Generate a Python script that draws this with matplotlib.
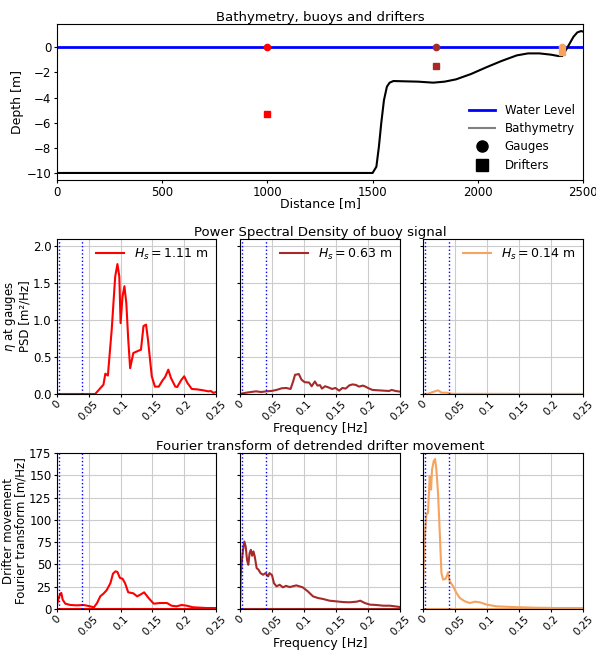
import matplotlib
matplotlib.use("Agg")
import matplotlib.pyplot as plt
from matplotlib.lines import Line2D
import numpy as np

plt.rcParams['font.family'] = ['DejaVu Sans']
plt.rcParams['font.size'] = 9

# ---------------- data ----------------
bathy_x = [0, 1500, 1518, 1530, 1541, 1554, 1568, 1581, 1599, 1644, 1716, 1788, 1842,
           1896, 1968, 2040, 2112, 2185, 2239, 2293, 2347, 2383, 2401, 2419, 2437,
           2455, 2473, 2491, 2500]
bathy_z = [-10, -10, -9.5, -7.9, -6.05, -4.2, -3.13, -2.81, -2.68, -2.70, -2.73, -2.81,
           -2.73, -2.55, -2.12, -1.59, -1.09, -0.64, -0.48, -0.48, -0.58, -0.69, -0.69,
           -0.21, 0.32, 0.85, 1.19, 1.30, 1.25]
water_x = [0, 2500]
water_z = [0, 0]

station_x = [1000, 1800, 2400]
gauge_z = [0, 0, 0]
drifter_z = [-5.3, -1.5, -0.4]
colors = ['red', 'brown', 'sandybrown']
hs_values = [1.11, 0.63, 0.14]

psd1_f = [0, 0.060, 0.073, 0.076, 0.080, 0.086, 0.0915, 0.095, 0.098, 0.100, 0.103, 0.106,
          0.109, 0.112, 0.115, 0.120, 0.129, 0.132, 0.136, 0.140, 0.143, 0.149, 0.154,
          0.160, 0.166, 0.170, 0.175, 0.179, 0.186, 0.189, 0.195, 0.200, 0.205, 0.212,
          0.220, 0.230, 0.238, 0.242, 0.246, 0.250]
psd1_v = [0, 0, 0.126, 0.275, 0.25, 0.87, 1.59, 1.76, 1.59, 0.96, 1.32, 1.46,
          1.23, 0.74, 0.35, 0.555, 0.59, 0.60, 0.92, 0.94, 0.74, 0.24, 0.10,
          0.10, 0.185, 0.23, 0.33, 0.22, 0.10, 0.095, 0.185, 0.24, 0.15, 0.068,
          0.063, 0.05, 0.036, 0.04, 0.015, 0.027]

psd2_f = [0, 0.007, 0.017, 0.025, 0.033, 0.041, 0.049, 0.057, 0.065, 0.072, 0.079, 0.083,
          0.086, 0.092, 0.096, 0.101, 0.108, 0.112, 0.117, 0.121, 0.125, 0.128, 0.133,
          0.138, 0.144, 0.149, 0.155, 0.160, 0.165, 0.171, 0.176, 0.181, 0.186, 0.192,
          0.196, 0.201, 0.207, 0.216, 0.225, 0.233, 0.237, 0.243, 0.250]
psd2_v = [0, 0.014, 0.027, 0.036, 0.027, 0.036, 0.041, 0.055, 0.077, 0.082, 0.068, 0.17,
          0.26, 0.27, 0.195, 0.16, 0.155, 0.105, 0.17, 0.114, 0.12, 0.073, 0.105,
          0.09, 0.068, 0.082, 0.045, 0.082, 0.073, 0.118, 0.13, 0.123, 0.10, 0.114,
          0.10, 0.077, 0.055, 0.05, 0.045, 0.041, 0.055, 0.041, 0.032]

psd3_f = [0, 0.008, 0.0157, 0.0235, 0.029, 0.037, 0.042, 0.047, 0.10, 0.15, 0.20, 0.25]
psd3_v = [0, 0.004, 0.028, 0.05, 0.018, 0.018, 0.009, 0.002, 0.002, 0.001, 0.001, 0.001]

ft1_f = [0, 0.0026, 0.0052, 0.0068, 0.0089, 0.013, 0.021, 0.031, 0.042, 0.052, 0.058,
         0.063, 0.068, 0.073, 0.078, 0.084, 0.088, 0.092, 0.095, 0.099, 0.103, 0.107,
         0.112, 0.120, 0.126, 0.131, 0.137, 0.144, 0.152, 0.162, 0.173, 0.180, 0.188,
         0.196, 0.204, 0.214, 0.225, 0.235, 0.250]
ft1_v = [4.9, 12.3, 17.2, 18, 10.5, 6, 4.5, 4.1, 4.5, 3, 1.9,
         6.7, 14.2, 17.2, 21, 29, 39.6, 42.3, 41.5, 34.8, 34, 29,
         18.7, 17.6, 14.2, 16.1, 18.7, 12.3, 6, 6.7, 6.7, 3.7, 3,
         4.5, 3.7, 1.9, 1.5, 1.1, 1.1]

ft2_f = [0.0005, 0.001, 0.0026, 0.0047, 0.0068, 0.0089, 0.011, 0.013, 0.015, 0.017,
         0.019, 0.021, 0.023, 0.026, 0.029, 0.032, 0.036, 0.040, 0.044, 0.046, 0.050,
         0.053, 0.057, 0.062, 0.067, 0.072, 0.0776, 0.088, 0.098, 0.106, 0.114, 0.122,
         0.130, 0.140, 0.150, 0.161, 0.171, 0.182, 0.188, 0.195, 0.203, 0.213, 0.224,
         0.234, 0.242, 0.250]
ft2_v = [10.4, 36.6, 51.5, 66.4, 75.7, 70, 55, 49.6, 62.7, 66.4,
         59.7, 64.6, 59, 45.9, 44, 40.3, 38.4, 40.3, 36.6, 40.3, 38,
         29, 25.4, 27.2, 24.3, 26, 24.6, 26.5, 24.3, 19.8, 14.2, 12.3,
         11.2, 9.3, 8.6, 7.8, 7.5, 8.2, 9.3, 6.7, 4.9, 4.5, 3.7,
         3.7, 3, 2.2]

ft3_f = [0, 0.0005, 0.0026, 0.0052, 0.0078, 0.0105, 0.0126, 0.0141, 0.0167, 0.0188,
         0.0209, 0.0235, 0.0262, 0.0288, 0.0314, 0.0356, 0.0392, 0.0418, 0.0471, 0.0523,
         0.0575, 0.0654, 0.0732, 0.0811, 0.0889, 0.0994, 0.115, 0.141, 0.173, 0.209, 0.250]
ft3_v = [14.2, 36.6, 77.8, 105.8, 107.7, 148.8, 133.9, 156.3, 165.7, 168.3,
         156.3, 130, 85.3, 40.4, 32.9, 34, 41.1, 31, 25.4, 18,
         12.3, 8.6, 6.7, 8.2, 7.5, 4.9, 3, 2.2, 1.5, 1.1, 1.1]

band_f = [0.0033, 0.04]
freq_ticks = [0, 0.05, 0.1, 0.15, 0.2, 0.25]
freq_labels = ['0', '0.05', '0.1', '0.15', '0.2', '0.25']

psd_f = [psd1_f, psd2_f, psd3_f]
psd_v = [psd1_v, psd2_v, psd3_v]
ft_f = [ft1_f, ft2_f, ft3_f]
ft_v = [ft1_v, ft2_v, ft3_v]

# ---------------- figure ----------------
W, H = 596, 652
fig = plt.figure(figsize=(W / 100, H / 100), dpi=100)

def box(x0, y0, x1, y1):
    return [x0 / W, 1 - y1 / H, (x1 - x0) / W, (y1 - y0) / H]

ax0 = fig.add_axes(box(57, 24, 583, 180))
ax0.plot(water_x, water_z, color='blue', lw=2)
ax0.plot(bathy_x, bathy_z, color='black', lw=1.5)
for x, g, d, c in zip(station_x, gauge_z, drifter_z, colors):
    ax0.plot(x, g, 'o', color=c, ms=4.5)
    ax0.plot(x, d, 's', color=c, ms=4.5)
ax0.set_xlim(0, 2500)
ax0.set_ylim(-10.56, 1.86)
ax0.set_yticks([0, -2, -4, -6, -8, -10])
ax0.tick_params(labelsize=8.5, length=2.5, pad=1.5)
ax0.set_xlabel('Distance [m]', labelpad=-1)
ax0.set_ylabel('Depth [m]', labelpad=2)
ax0.set_title('Bathymetry, buoys and drifters', fontsize=9.5, pad=2)
handles = [Line2D([], [], color='blue', lw=2),
           Line2D([], [], color='gray', lw=1.5),
           Line2D([], [], color='black', marker='o', ls='', ms=8),
           Line2D([], [], color='black', marker='s', ls='', ms=8)]
ax0.legend(handles, ['Water Level', 'Bathymetry', 'Gauges', 'Drifters'],
           loc='lower right', frameon=False, fontsize=8.5, handlelength=2.2,
           labelspacing=0.45, borderaxespad=0.3)

xs = [(57, 216), (240, 400), (423, 583)]

def style(ax, first, ylim, yticks):
    ax.set_xlim(0, 0.25)
    ax.set_ylim(*ylim)
    ax.set_xticks(freq_ticks)
    ax.set_xticklabels(freq_labels, rotation=45)
    ax.set_yticks(yticks)
    if not first:
        ax.set_yticklabels([])
    ax.grid(True, color='#cccccc', lw=0.8)
    ax.set_axisbelow(True)
    for f in band_f:
        ax.axvline(f, color='blue', ls=':', lw=1)
    ax.tick_params(axis='y', labelsize=8.5, pad=1.5, length=2.5)
    ax.tick_params(axis='x', labelsize=7.5, pad=1, length=2.5)

for i in range(3):
    ax = fig.add_axes(box(xs[i][0], 239, xs[i][1], 394))
    ax.plot(psd_f[i], psd_v[i], color=colors[i], lw=1.5,
            label=r'$H_s = %.2f$ m' % hs_values[i])
    style(ax, i == 0, (0, 2.1), [0, 0.5, 1.0, 1.5, 2.0])
    ax.legend(loc='upper right', frameon=False, fontsize=9, handlelength=2.2,
              borderaxespad=0.2)
    if i == 0:
        ax.set_ylabel('$\\eta$ at gauges\nPSD [m²/Hz]', fontsize=8.5, labelpad=1,
                      linespacing=1.0)
    if i == 1:
        ax.set_title('Power Spectral Density of buoy signal', fontsize=9.5, pad=1)
        ax.set_xlabel('Frequency [Hz]', labelpad=0)

    ax = fig.add_axes(box(xs[i][0], 453, xs[i][1], 609))
    ax.plot(ft_f[i], ft_v[i], color=colors[i], lw=1.5)
    ax.axhline(0, color=colors[i], lw=1.5)
    style(ax, i == 0, (0, 175), [0, 25, 50, 75, 100, 125, 150, 175])
    if i == 0:
        ax.set_ylabel('Drifter movement\nFourier transform [m/Hz]', fontsize=8.5,
                      labelpad=1, linespacing=1.0)
    if i == 1:
        ax.set_title('Fourier transform of detrended drifter movement', fontsize=9.5, pad=1)
        ax.set_xlabel('Frequency [Hz]', labelpad=0)

fig.savefig('out.png', dpi=100)
